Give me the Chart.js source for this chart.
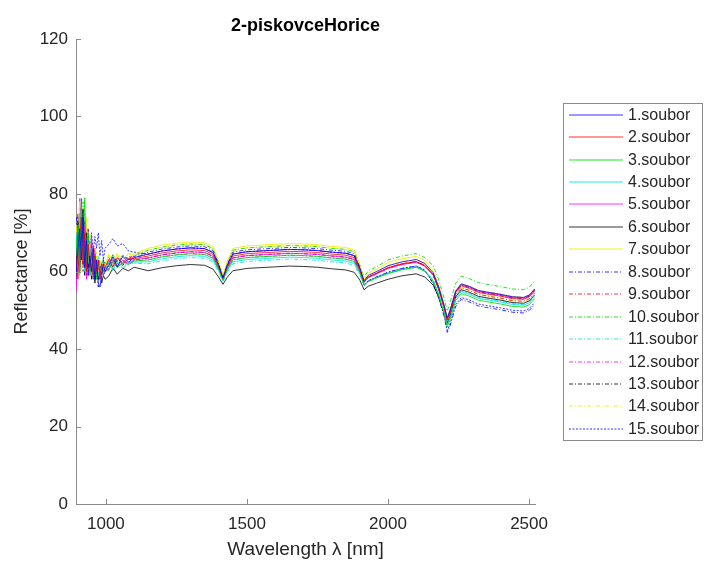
<!DOCTYPE html>
<html>
<head>
<meta charset="utf-8">
<script src="https://cdn.jsdelivr.net/npm/chart.js@4/dist/chart.umd.min.js"></script>
<style>
  html, body { margin: 0; padding: 0; background: #fff; }
  canvas { display: block; }
</style>
</head>
<body>
<canvas id="chart" width="704" height="563"></canvas>
<script>

//----- Data -----//

const wavelengths = [895,901,907,913,919,925,931,937,943,949,955,961,967,973,979,985,991,997,
  1010,1025,1040,1060,1080,1100,
  1150,1200,1250,1300,1350,1380,1400,1415,1430,1450,
  1500,1550,1600,1650,1700,1750,1800,1850,1880,1900,
  1915,1930,1960,2000,2050,2100,2130,2160,2180,2200,
  2210,2220,2240,2260,2290,2320,2350,2400,2440,2480,
  2500,2520]

const soubor1 = [60,66,71,63,74,61,68,59,64,60,66,58,63,57,56,59,62,60, 61.5,63.8,61.2,63.9,62.4,63.6, 64.5,65.3,65.8,66.1,65.9,64.9,61.6,58.4,61.6,64.5, 65.1,65.3,65.5,65.7,65.6,65.4,65,64.7,64.1,60.9, 57.6,59,60,61.5,62.5,63.1,62.1,59.7,56,51, 48,50,55,56.8,56.1,55.1,54.7,54.1,53.5,53.3, 53.9,55.5]
const soubor2 = [63,58,69,74,62,70,60,67,61,65,59,64,60,63,59,62,60,61, 63.1,61.2,63.5,61.9,63.4,63.3, 64,64.8,65.3,65.6,65.4,64.4,61.2,58.2,61.2,64, 64.6,64.8,65,65.2,65.1,64.9,64.5,64.2,63.6,60.5, 57.3,58.6,59.6,61,62,62.6,61.6,59.2,55.5,50.5, 47.5,49.5,54.5,56.3,55.6,54.6,54.2,53.6,53,52.8, 53.4,55]
const soubor3 = [66,72,60,77,65,79,62,70,59,66,61,64,58,62,60,61,59,61, 60.2,62.8,60.9,62.5,61.8,62.7, 63,63.8,64.3,64.6,64.4,63.4,60.5,57.8,60.5,63, 63.6,63.8,64,64.2,64.1,63.9,63.5,63.2,62.6,59.8, 56.4,57.4,58.4,59.5,60.5,61.1,60.1,57.5,53.8,48.8, 45.7,47.5,52.5,54.3,53.6,52.6,52.2,51.6,51,50.8, 51.4,53]
const soubor4 = [70,61,75,64,71,60,68,62,66,59,64,60,62,59,61,60,61,60, 62.4,60.5,62.6,61,62.5,62.4, 62.5,63.3,63.8,64.1,63.9,62.9,60.2,57.6,60.2,62.5, 63.1,63.3,63.5,63.7,63.6,63.4,63,62.7,62.1,59.5, 56.4,57.4,58.4,59.5,60.5,61.1,60.1,57.7,54,49, 46.2,48,53,54.8,54.1,53.1,52.7,52.1,51.5,51.3, 51.9,53.5]
const soubor5 = [55,68,62,78,63,72,58,66,61,69,59,65,60,62,58,61,59,60, 60.6,63.1,61.4,62.9,62.1,63, 63.5,64.3,64.8,65.1,64.9,63.9,60.9,58,60.9,63.5, 64.1,64.3,64.5,64.7,64.6,64.4,64,63.7,63.1,60.2, 57.2,58.4,59.4,60.8,61.8,62.4,61.4,59.1,55.4,50.4, 47.8,49.8,54.8,56.6,55.9,54.9,54.5,53.9,53.3,53.1, 53.7,55.3]
const soubor6 = [58,73,60,68,76,59,70,61,64,58,63,57,61,58,60,57,59,58, 58.8,60.9,59.3,60.8,60.2,61.1, 60.2,61,61.5,61.8,61.6,60.6,58.5,56.7,58.5,60.2, 60.8,61,61.2,61.4,61.3,61.1,60.7,60.4,59.8,57.8, 55.3,56.2,57,58,58.9,59.4,58.6,56.5,53.3,48.8, 46.6,48.5,53.5,55.3,54.6,53.6,53.2,52.6,52,51.8, 52.4,54]
const soubor7 = [72,64,78,60,70,63,74,60,67,62,65,61,64,60,62,61,62,61, 64.5,62.4,64.6,63.1,64.6,64.5, 66,66.8,67.3,67.6,67.4,66.4,62.6,59,62.6,66, 66.6,66.8,67,67.2,67.1,66.9,66.5,66.2,65.6,61.9, 58,59.6,60.6,62.3,63.3,63.9,62.9,60.1,56.4,51.2, 47.9,50,55,56.8,56.1,55.1,54.7,54.1,53.5,53.3, 53.9,55.5]
const soubor8 = [74,62,70,79,65,73,62,69,63,67,60,64,59,56,62,60,63,61, 61.4,64.2,62.1,64,63.1,63.9, 65,65.8,66.3,66.6,66.4,65.4,61.9,58.6,61.9,65, 65.6,65.8,66,66.2,66.1,65.9,65.5,65.2,64.6,61.2, 56.5,57.6,58.6,59.8,60.8,61.4,60.4,56.8,53.1,48.1, 44.3,46,51,52.8,52.1,51.1,50.7,50.1,49.5,49.3, 49.9,51.5]
const soubor9 = [61,70,65,72,60,68,63,71,60,64,62,66,59,63,60,62,61,62, 63.6,61.7,63.8,62.2,63.9,63.6, 64.5,65.3,65.8,66.1,65.9,64.9,61.6,58.4,61.6,64.5, 65.1,65.3,65.5,65.7,65.6,65.4,65,64.7,64.1,60.9, 57.3,58.6,59.6,61,62,62.6,61.6,59,55.3,50.3, 47,49,54,55.8,55.1,54.1,53.7,53.1,52.5,52.3, 52.9,54.5]
const soubor10 = [68,60,73,66,78,61,72,64,68,61,66,62,64,61,63,62,63,62, 62,64.4,62.6,64.2,63.3,64.2, 65.5,66.3,66.8,67.1,66.9,65.9,62.3,58.8,62.3,65.5, 66.1,66.3,66.5,66.7,66.6,66.4,66,65.7,65.1,61.6, 58.5,60.2,61.2,63,64,64.6,63.6,61.5,57.8,52.8, 49.8,52,57,58.8,58.1,57.1,56.7,56.1,55.5,55.3, 55.9,57.5]
const soubor11 = [64,71,59,70,63,75,60,66,62,68,60,63,61,64,59,61,60,60, 62.1,60.2,62.2,60.6,62.2,62.1, 62,62.8,63.3,63.6,63.4,62.4,59.8,57.4,59.8,62, 62.6,62.8,63,63.2,63.1,62.9,62.5,62.2,61.6,59.1, 56.4,57.4,58.4,59.5,60.5,61.1,60.1,58,54.3,49.3, 46.3,48.2,53.2,55,54.3,53.3,52.9,52.3,51.7,51.5, 52.1,53.7]
const soubor12 = [57,65,79,62,69,64,71,59,65,60,67,60,63,59,62,60,61,61, 60.5,62.6,61.2,62.7,61.9,62.7, 63,63.8,64.3,64.6,64.4,63.4,60.5,57.8,60.5,63, 63.6,63.8,64,64.2,64.1,63.9,63.5,63.2,62.6,59.8, 57.2,58.4,59.4,60.8,61.8,62.4,61.4,59.3,55.6,50.6, 48,50,55,56.8,56.1,55.1,54.7,54.1,53.5,53.3, 53.9,55.5]
const soubor13 = [62,75,63,69,61,71,59,67,62,64,58,63,60,62,58,60,59,60, 62.8,61,62.9,61.6,63.1,63, 63.5,64.3,64.8,65.1,64.9,63.9,60.9,58,60.9,63.5, 64.1,64.3,64.5,64.7,64.6,64.4,64,63.7,63.1,60.2, 57.2,58.5,59.5,60.9,61.9,62.5,61.5,59.2,55.5,50.5, 47.7,49.7,54.7,56.5,55.8,54.8,54.4,53.8,53.2,53, 53.6,55.2]
const soubor14 = [67,63,72,65,77,62,69,63,70,61,64,62,65,60,63,61,62,62, 64,62.2,64.2,62.8,64.4,64.2, 65.5,66.3,66.8,67.1,66.9,65.9,62.3,58.8,62.3,65.5, 66.1,66.3,66.5,66.7,66.6,66.4,66,65.7,65.1,61.6, 57.6,59,60,61.5,62.5,63.1,62.1,59.2,55.5,50.5, 47,49,54,55.8,55.1,54.1,53.7,53.1,52.5,52.3, 52.9,54.5]
const soubor15 = [65,72,61,73,64,70,62,71,64,70,65,69,66,70,64,68,63,66, 67,68.5,66.6,67.2,65.3,65, 64.5,65.3,65.8,66.1,65.9,64.9,61.6,58.4,61.6,64.5, 65.1,65.3,65.5,65.7,65.6,65.4,65,64.7,64.1,60.9, 56.5,57.6,58.6,59.8,60.8,61.4,60.4,57,53.3,48.3, 44.8,46.5,51.5,53.3,52.6,51.6,51.2,50.6,50,49.8, 50.4,52]

const seriesLabels = ['1.soubor','2.soubor','3.soubor','4.soubor','5.soubor','6.soubor','7.soubor',
  '8.soubor','9.soubor','10.soubor','11.soubor','12.soubor','13.soubor','14.soubor','15.soubor']
const seriesValues = [soubor1, soubor2, soubor3, soubor4, soubor5, soubor6, soubor7, soubor8,
  soubor9, soubor10, soubor11, soubor12, soubor13, soubor14, soubor15]

const xTickValues = [1000, 1500, 2000, 2500]
const yTickValues = [0, 20, 40, 60, 80, 100, 120]

//----- Styles -----//

const fontFamily = '"Liberation Sans", Arial, Helvetica, sans-serif'
const axisColor = '#8a8a8a'
const textColor = '#262626'
const colors = ['rgba(0,0,255,0.8)', 'rgba(255,0,0,0.8)', 'rgba(0,220,0,0.85)', 'rgba(0,230,230,0.85)',
  'rgba(255,0,255,0.8)', 'rgba(0,0,0,0.8)', 'rgba(240,240,0,0.9)']
const dashDot = [4, 2, 1, 2]
const dotted = [2, 1.5]

function styleFor(i) {
  if (i < 7) return { color: colors[i], dash: [] }
  if (i < 14) return { color: colors[i - 7], dash: dashDot }
  return { color: colors[0], dash: dotted }
}

const datasets = seriesValues.map((vals, i) => {
  const st = styleFor(i)
  return {
    label: seriesLabels[i],
    data: wavelengths.map((w, j) => ({ x: w, y: vals[j] })),
    borderColor: st.color,
    borderDash: st.dash,
    borderWidth: 1,
    pointRadius: 0,
    tension: 0,
    fill: false
  }
})

//----- Plugins -----//

const inwardTicks = {
  id: 'inwardTicks',
  afterDraw(chart) {
    const ctx = chart.ctx
    const a = chart.chartArea
    const xs = chart.scales.x
    const ys = chart.scales.y
    ctx.save()
    ctx.strokeStyle = axisColor
    ctx.lineWidth = 1
    ctx.beginPath()
    xs.ticks.forEach(t => {
      const px = Math.round(xs.getPixelForValue(t.value)) + 0.5
      ctx.moveTo(px, a.bottom)
      ctx.lineTo(px, a.bottom - 5)
    })
    ys.ticks.forEach(t => {
      const py = Math.round(ys.getPixelForValue(t.value)) + 0.5
      ctx.moveTo(a.left, py)
      ctx.lineTo(a.left + 5, py)
    })
    ctx.stroke()
    ctx.restore()
  }
}

const legendBox = {
  id: 'legendBox',
  afterDraw(chart) {
    const ctx = chart.ctx
    ctx.save()
    ctx.fillStyle = '#fff'
    ctx.fillRect(563.5, 103.5, 139, 337)
    ctx.strokeStyle = axisColor
    ctx.lineWidth = 1
    ctx.strokeRect(563.5, 103.5, 139, 337)
    ctx.font = '16px ' + fontFamily
    ctx.textBaseline = 'middle'
    chart.data.datasets.forEach((ds, i) => {
      const y = Math.round(114.6 + i * 22.45)
      ctx.strokeStyle = ds.borderColor
      ctx.lineWidth = 1.2
      ctx.setLineDash(ds.borderDash)
      ctx.beginPath()
      ctx.moveTo(569, y)
      ctx.lineTo(623, y)
      ctx.stroke()
      ctx.setLineDash([])
      ctx.fillStyle = textColor
      ctx.fillText(ds.label, 628, y + 1)
    })
    ctx.restore()
  }
}

//----- Create Chart -----//

const myChart = new Chart(document.getElementById('chart'), {
  type: 'line',
  data: { datasets: datasets },
  plugins: [inwardTicks, legendBox],
  options: {
    responsive: false,
    animation: false,
    devicePixelRatio: 1,
    layout: { padding: { left: 0, right: 169, top: 0, bottom: 0 } },
    plugins: {
      legend: { display: false },
      tooltip: { enabled: false },
      title: {
        display: true,
        text: '2-piskovceHorice',
        fullSize: false,
        color: '#000',
        font: { family: fontFamily, size: 18, weight: 'bold', lineHeight: 1.2 },
        padding: { top: 15, bottom: 2.4 }
      }
    },
    scales: {
      x: {
        type: 'linear',
        min: 894,
        max: 2521,
        afterBuildTicks: s => { s.ticks = xTickValues.map(v => ({ value: v })) },
        afterFit: s => { s.height = 59 },
        grid: { display: false, drawTicks: false },
        border: { display: true, color: axisColor, width: 1 },
        ticks: {
          color: textColor, padding: 10, maxRotation: 0,
          font: { family: fontFamily, size: 17 },
          callback: v => String(v)
        },
        title: {
          display: true,
          text: 'Wavelength λ [nm]',
          color: textColor,
          font: { family: fontFamily, size: 19, lineHeight: 1.2 },
          padding: { top: 0, bottom: 2 }
        }
      },
      y: {
        min: 0,
        max: 120,
        afterBuildTicks: s => { s.ticks = yTickValues.map(v => ({ value: v })) },
        afterFit: s => { s.width = 76 },
        grid: { display: false, drawTicks: false },
        border: { display: true, color: axisColor, width: 1 },
        ticks: {
          color: textColor, padding: 8,
          font: { family: fontFamily, size: 17 },
          callback: v => String(v)
        },
        title: {
          display: true,
          text: 'Reflectance [%]',
          color: textColor,
          font: { family: fontFamily, size: 18, lineHeight: 1.2 },
          padding: { top: 11, bottom: 0 }
        }
      }
    }
  }
})

</script>
</body>
</html>
